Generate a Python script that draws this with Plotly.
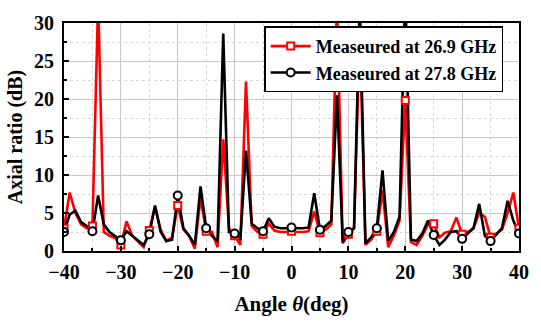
import plotly.graph_objects as go

angles = list(range(-40, 41))

ar_269 = [3.0, 7.7, 5.0, 3.5, 3.0, 3.3, 33.0, 2.5, 2.0, 1.7,
          0.8, 3.9, 2.0, 1.3, 0.5, 2.7, 5.8, 2.8, 1.3, 1.8,
          6.0, 2.8, 2.0, 0.3, 7.0, 2.6, 2.5, 0.5, 14.7, 3.0,
          2.0, 0.8, 22.3, 3.3, 2.5, 2.2, 3.6, 2.7, 2.5, 2.5,
          2.6, 2.5, 2.5, 2.6, 5.2, 2.4, 2.8, 3.5, 33.0, 1.0,
          2.2, 3.0, 29.0, 0.8, 1.5, 2.6, 8.0, 0.5, 2.0, 4.0,
          19.8, 1.2, 0.8, 2.0, 3.5, 3.6, 1.8, 2.4, 2.6, 4.4,
          2.2, 2.5, 3.0, 5.0, 4.5, 1.8, 2.3, 2.8, 5.0, 7.7,
          3.0]

ar_278 = [2.5, 4.8, 5.3, 3.8, 3.3, 2.6, 7.3, 3.5, 2.5, 2.0,
          1.4, 2.6, 2.0, 1.5, 0.8, 2.2, 6.0, 2.5, 1.3, 1.5,
          7.3, 3.0, 2.0, 0.8, 8.5, 3.0, 2.0, 1.3, 28.6, 2.5,
          2.3, 1.5, 13.2, 3.6, 3.0, 2.6, 4.3, 3.2, 3.0, 3.0,
          3.1, 3.0, 3.0, 3.1, 7.6, 2.8, 3.3, 4.0, 20.5, 1.2,
          2.5, 3.0, 33.0, 1.0, 1.8, 3.0, 10.6, 1.3, 2.5, 4.5,
          35.0, 1.5, 1.3, 2.3, 4.0, 2.1, 0.8, 1.5, 2.5, 2.6,
          1.6, 2.3, 3.0, 6.2, 2.0, 1.3, 2.2, 3.0, 6.6, 4.0,
          2.3]

labels = ["Measeured at 26.9 GHz", "Measeured at 27.8 GHz"]
colors = ["#ff0000", "#000000"]
symbols = ["square", "circle"]
msizes = [7, 8]

fig = go.Figure()
for vals, col in zip([ar_269, ar_278], colors):
    fig.add_trace(go.Scatter(x=angles, y=vals, mode="lines",
                             line=dict(color=col, width=2.6),
                             showlegend=False, hoverinfo="skip"))
for vals, name, col, sym, ms in zip([ar_269, ar_278], labels, colors, symbols, msizes):
    mk = dict(symbol=sym, size=ms, color="white", line=dict(color=col, width=2))
    fig.add_trace(go.Scatter(x=angles[::5], y=vals[::5], mode="markers",
                             marker=mk, showlegend=False))
    fig.add_trace(go.Scatter(x=[None], y=[None], mode="lines+markers",
                             name=name, line=dict(color=col, width=2.6),
                             marker=mk))

serif = "Liberation Serif"
axis_common = dict(
    showline=True, linecolor="black", linewidth=2, mirror=True,
    ticks="inside", ticklen=5, tickwidth=2, tickcolor="black",
    showgrid=True, gridcolor="#c8c8c8", gridwidth=1,
    zeroline=False,
    tickfont=dict(family=serif, size=20, color="black", weight="bold"),
)

fig.update_xaxes(
    range=[-40, 40], tickvals=list(range(-40, 41, 10)),
    ticklabelstandoff=2,
    minor=dict(dtick=5, tick0=-40, ticks="inside", ticklen=3, tickwidth=2,
               tickcolor="black", showgrid=True, gridcolor="#d8d8d8",
               griddash="dot", gridwidth=1),
    title=dict(text="Angle <i>θ</i>(deg)", standoff=14,
               font=dict(family=serif, size=21, color="black", weight="bold")),
    **axis_common)
fig.update_yaxes(
    range=[0, 30], tickvals=list(range(0, 31, 5)),
    ticklabelstandoff=4,
    minor=dict(dtick=2.5, tick0=0, ticks="inside", ticklen=3, tickwidth=2,
               tickcolor="black", showgrid=True, gridcolor="#d8d8d8",
               griddash="dot", gridwidth=1),
    title=dict(text="Axial ratio (dB)", standoff=6,
               font=dict(family=serif, size=20, color="black", weight="bold")),
    **axis_common)

fig.update_layout(
    width=541, height=324,
    margin=dict(l=64, r=13, t=12, b=73),
    plot_bgcolor="white", paper_bgcolor="white",
    legend=dict(x=0.44, y=0.985, xanchor="left", yanchor="top",
                bgcolor="white", bordercolor="black", borderwidth=1.5,
                font=dict(family=serif, size=18, color="black", weight="bold"),
                tracegroupgap=0, itemwidth=40),
)

fig.write_html("out.html")
